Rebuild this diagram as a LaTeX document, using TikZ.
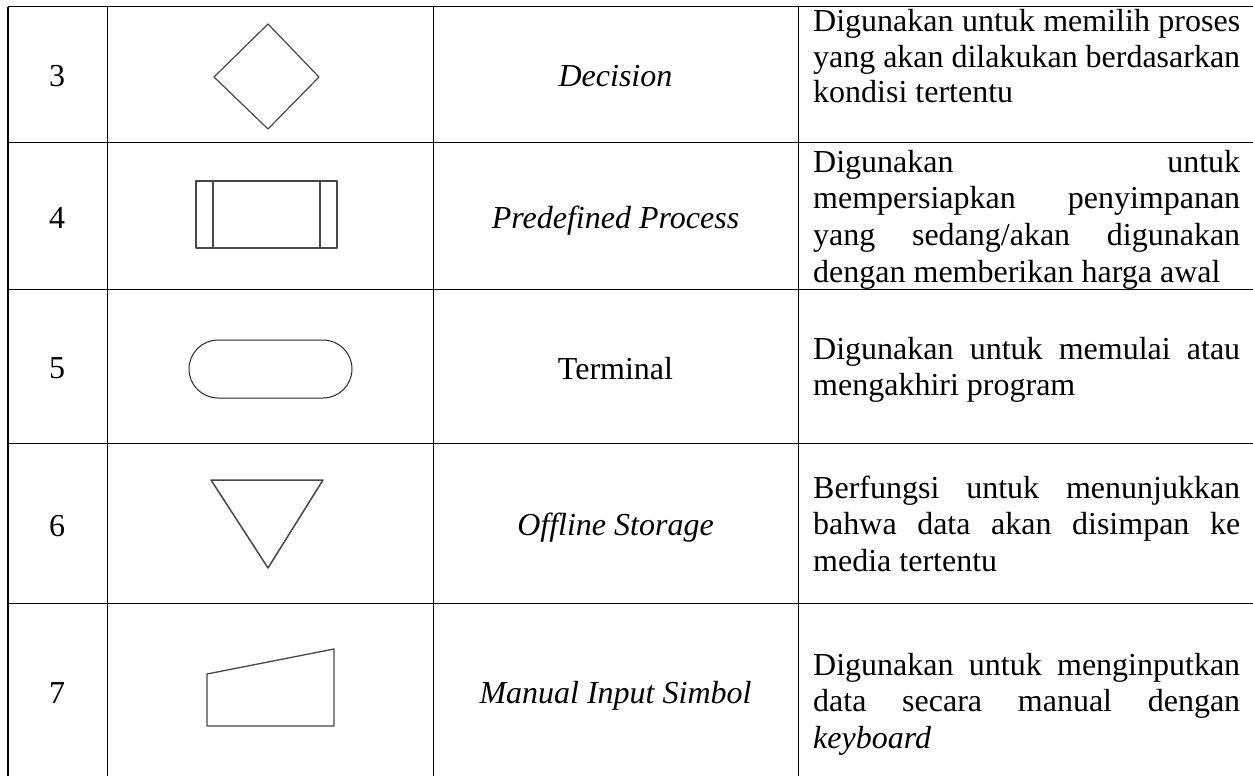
\documentclass[tikz,border=0pt]{standalone}
\usepackage{fontspec}
\setmainfont{Liberation Serif}
\newcommand{\jl}[1]{\makebox[427pt][s]{#1}}
\tikzset{
  gridline/.style={line width=1.3pt, black},
  desc/.style={font=\fontsize{32}{36.8}\selectfont, inner sep=0pt, anchor=base west},
  numtxt/.style={font=\fontsize{32}{36.8}\selectfont, inner sep=0pt, anchor=base},
  nametxt/.style={font=\fontsize{32}{36.8}\selectfont\itshape, inner sep=0pt, anchor=base},
  shp/.style={line width=1.2pt, draw=black!72, line join=round}
}
\begin{document}
\begin{tikzpicture}[x=1pt,y=-1pt]
\useasboundingbox (0,0) rectangle (1253,776);
% grid
\foreach \yy in {6.7,142.5,289.7,443.3,603.3}{
  \draw[gridline] (8,\yy) -- (1253,\yy);
}
\foreach \xx in {8,107.3,433.3,798.3}{
  \draw[gridline] (\xx,6.7) -- (\xx,776);
}
% numbers
\node[numtxt] (n3) at (57,87) {3};
\node[numtxt] (n4) at (57,228) {4};
\node[numtxt] (n5) at (57,378) {5};
\node[numtxt] (n6) at (57,536) {6};
\node[numtxt] (n7) at (57,703) {7};
% shapes
\draw[shp] (268,24) -- (319,77) -- (268,129) -- (214,77) -- cycle;
\draw[shp] (196,181) rectangle (337,248);
\draw[shp] (213,181) -- (213,248);
\draw[shp] (320,181) -- (320,248);
\draw[line width=1pt, black!85, rounded corners=29pt] (189,340) rectangle (352,398);
\draw[shp, line width=1.5pt] (211,480) -- (323,480) -- (268,568) -- cycle;
\draw[shp, line width=1.3pt] (207,674) -- (334,649) -- (334,726) -- (207,726) -- cycle;
% names
\node[nametxt] (m3) at (615.5,86) {Decision};
\node[nametxt] (m4) at (615.5,228) {Predefined Process};
\node[numtxt]  (m5) at (615.5,379) {Terminal};
\node[nametxt] (m6) at (615.5,535) {Offline Storage};
\node[nametxt] (m7) at (615.5,703) {Manual Input Simbol};
% descriptions
\node[desc] (d3a) at (813,31.5) {\jl{Digunakan untuk memilih proses}};
\node[desc] (d3b) at (813,67) {\jl{yang akan dilakukan berdasarkan}};
\node[desc] (d3c) at (813,102.5) {kondisi tertentu};
\node[desc] (d4a) at (813,172) {\jl{Digunakan untuk}};
\node[desc] (d4b) at (813,208.8) {\jl{mempersiapkan penyimpanan}};
\node[desc] (d4c) at (813,245.6) {\jl{yang sedang/akan digunakan}};
\node[desc] (d4d) at (813,282.4) {dengan memberikan harga awal};
\node[desc] (d5a) at (813,359) {\jl{Digunakan untuk memulai atau}};
\node[desc] (d5b) at (813,395.8) {mengakhiri program};
\node[desc] (d6a) at (813,498) {\jl{Berfungsi untuk menunjukkan}};
\node[desc] (d6b) at (813,534.8) {\jl{bahwa data akan disimpan ke}};
\node[desc] (d6c) at (813,571.6) {media tertentu};
\node[desc] (d7a) at (813,675) {\jl{Digunakan untuk menginputkan}};
\node[desc] (d7b) at (813,711.8) {\jl{data secara manual dengan}};
\node[desc] (d7c) at (813,748.6) {\itshape keyboard};
\end{tikzpicture}
\end{document}
